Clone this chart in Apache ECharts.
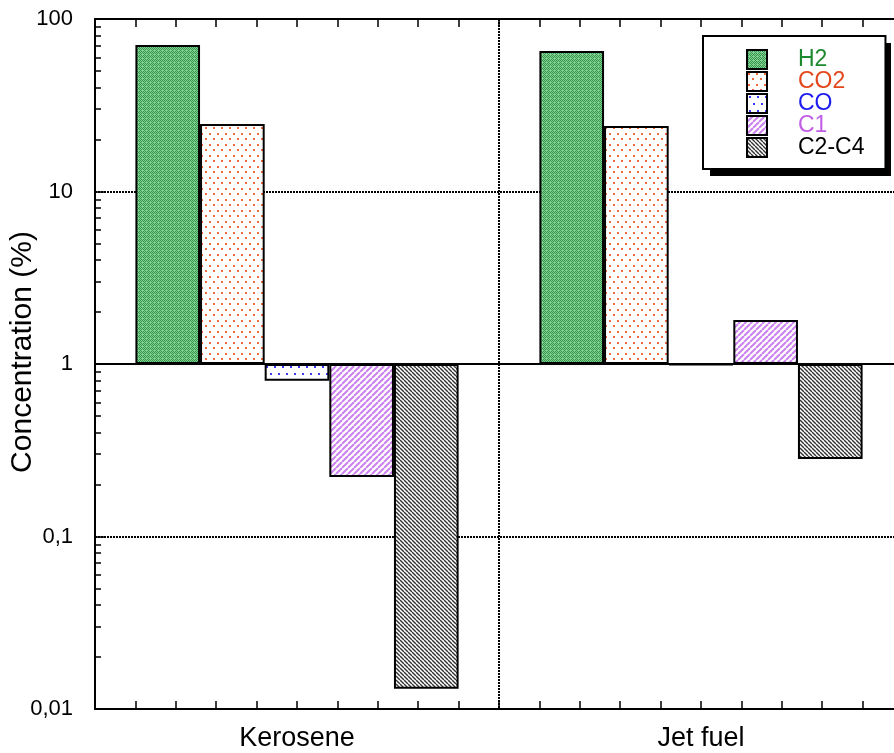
<!DOCTYPE html>
<html>
<head>
<meta charset="utf-8">
<script src="https://cdn.jsdelivr.net/npm/echarts@6/dist/echarts.min.js"></script>
<style>
html,body{margin:0;padding:0;background:#fff;}
#chart{width:894px;height:753px;}
</style>
</head>
<body>
<div id="chart"></div>
<script>
// ---- data ----
const categories = ['Kerosene', 'Jet fuel'];
const seriesNames = ['H2', 'CO2', 'CO', 'C1', 'C2-C4'];
const h2 = [70.7, 65.2];
const co2 = [24.6, 24.0];
const co = [0.80, 0.99];
const c1 = [0.221, 1.80];
const c2c4 = [0.0131, 0.281];
const yTickLabels = ['0,01', '0,1', '1', '10', '100'];
const legendColors = ['#1d8a30', '#e2481a', '#1c1cf0', '#c25de6', '#000000'];

// ---- patterns ----
function tile(w, h, draw) {
  const c = document.createElement('canvas');
  c.width = w; c.height = h;
  const ctx = c.getContext('2d');
  draw(ctx, w, h);
  return { image: c, repeat: 'repeat' };
}
const patH2 = tile(4, 4, (ctx) => {
  ctx.fillStyle = '#86cc95'; ctx.fillRect(0, 0, 4, 4);
  ctx.fillStyle = '#2f9a47';
  ctx.fillRect(0, 0, 1, 1); ctx.fillRect(2, 0, 1, 1); ctx.fillRect(1, 1, 1, 1); ctx.fillRect(3, 1, 1, 1);
  ctx.fillRect(0, 2, 1, 1); ctx.fillRect(1, 3, 1, 1); ctx.fillRect(3, 3, 1, 1);
});
const patCO2 = tile(8, 11, (ctx) => {
  ctx.fillStyle = '#ffffff'; ctx.fillRect(0, 0, 8, 11);
  ctx.fillStyle = '#ef6b3e';
  ctx.fillRect(1, 1, 2, 2); ctx.fillRect(5, 6, 2, 2);
});
const patCO = tile(8, 14, (ctx) => {
  ctx.fillStyle = '#ffffff'; ctx.fillRect(0, 0, 8, 14);
  ctx.fillStyle = '#3a3aff';
  ctx.fillRect(2, 2, 2, 2); ctx.fillRect(6, 9, 2, 2);
});
function stripes(size, color, width, dir) {
  return tile(size, size, (ctx, w, h) => {
    ctx.fillStyle = '#ffffff'; ctx.fillRect(0, 0, w, h);
    ctx.strokeStyle = color; ctx.lineWidth = width;
    for (let o = -size; o <= size; o += size) {
      ctx.beginPath();
      if (dir === '/') { ctx.moveTo(o, h); ctx.lineTo(o + w, 0); }
      else { ctx.moveTo(o, 0); ctx.lineTo(o + w, h); }
      ctx.stroke();
    }
  });
}
const patC1 = stripes(6, '#cc80ef', 2, '/');
const patC2 = stripes(4, '#333333', 1.4, '\\');
const patterns = [patH2, patCO2, patCO, patC1, patC2];
const values = [h2, co2, co, c1, c2c4];

// minor ticks (log positions of 2..9 in each decade)
const minorTicks = [];
for (let k = -2; k <= 1; k++) for (let m = 2; m <= 9; m++) minorTicks.push(k + Math.log10(m));

const FONT = 'Liberation Sans, Arial, sans-serif';
const chart = echarts.init(document.getElementById('chart'), null, { renderer: 'canvas' });

const series = seriesNames.map((name, i) => ({
  name: name,
  type: 'bar',
  xAxisIndex: 0,
  yAxisIndex: 0,
  barGap: '0%',
  barCategoryGap: '20%',
  data: values[i],
  itemStyle: { color: patterns[i], borderColor: '#000', borderWidth: 2 },
  emphasis: { disabled: true },
  animation: false
}));

const gridLine = { color: '#000', width: 2, type: [2, 1] };

const option = {
  animation: false,
  grid: { left: 95, top: 19, width: 808, height: 690, containLabel: false, outerBoundsMode: 'none',
          show: true, borderColor: '#000', borderWidth: 2, backgroundColor: 'transparent' },
  graphic: [{
    type: 'rect', left: 710, top: 43, z: 3,
    shape: { width: 181, height: 133 },
    style: { fill: '#000' }
  }],
  legend: {
    orient: 'vertical',
    left: 703, top: 36, z: 5,
    padding: [12, 21, 10, 43],
    itemWidth: 20, itemHeight: 19, itemGap: -1,
    icon: 'rect',
    backgroundColor: '#fff',
    borderColor: '#000', borderWidth: 2,
    textStyle: { fontFamily: FONT, fontSize: 23, padding: [0, 0, 0, 26] },
    data: seriesNames.map((n, i) => ({ name: n, textStyle: { color: legendColors[i] } }))
  },
  xAxis: [
    {
      type: 'category', data: categories, position: 'bottom',
      axisLine: { show: true, lineStyle: { color: '#000', width: 2 } },
      axisTick: { show: false },
      axisLabel: { fontFamily: FONT, fontSize: 27, color: '#000', margin: 16 },
      splitLine: { show: true, lineStyle: gridLine }
    },
    {
      type: 'value', min: 0, max: 20, interval: 1, position: 'bottom',
      axisLine: { show: false },
      axisTick: { show: true, inside: true, length: 8, lineStyle: { color: '#000', width: 1.5 } },
      axisLabel: { show: false }, splitLine: { show: false }
    },
    {
      type: 'value', min: 0, max: 20, interval: 1, position: 'top',
      axisLine: { show: false },
      axisTick: { show: true, inside: true, length: 8, lineStyle: { color: '#000', width: 1.5 } },
      axisLabel: { show: false }, splitLine: { show: false }
    }
  ],
  yAxis: [
    {
      type: 'log', logBase: 10, min: 0.01, max: 100, position: 'left',
      name: 'Concentration (%)', nameLocation: 'middle', nameGap: 57, nameRotate: 90,
      nameMoveOverlap: false,
      nameTextStyle: { fontFamily: FONT, fontSize: 30, color: '#000', padding: [0, 0, 0, 24] },
      axisLine: { show: true, lineStyle: { color: '#000', width: 2 } },
      axisTick: { show: true, inside: true, length: 9, lineStyle: { color: '#000', width: 1.5 } },
      axisLabel: {
        fontFamily: FONT, fontSize: 22, color: '#000', margin: 22,
        formatter: function (v) {
          const e = Math.round(Math.log10(v));
          return yTickLabels[e + 2];
        }
      },
      splitLine: { show: true, lineStyle: gridLine }
    },
    {
      type: 'value', min: -2, max: 2, position: 'left',
      axisLine: { show: false },
      axisTick: { show: true, inside: true, length: 6, customValues: minorTicks, lineStyle: { color: '#000', width: 1.5 } },
      axisLabel: { show: false }, splitLine: { show: false }
    }
  ],
  series: series
};
chart.setOption(option);
</script>
</body>
</html>
